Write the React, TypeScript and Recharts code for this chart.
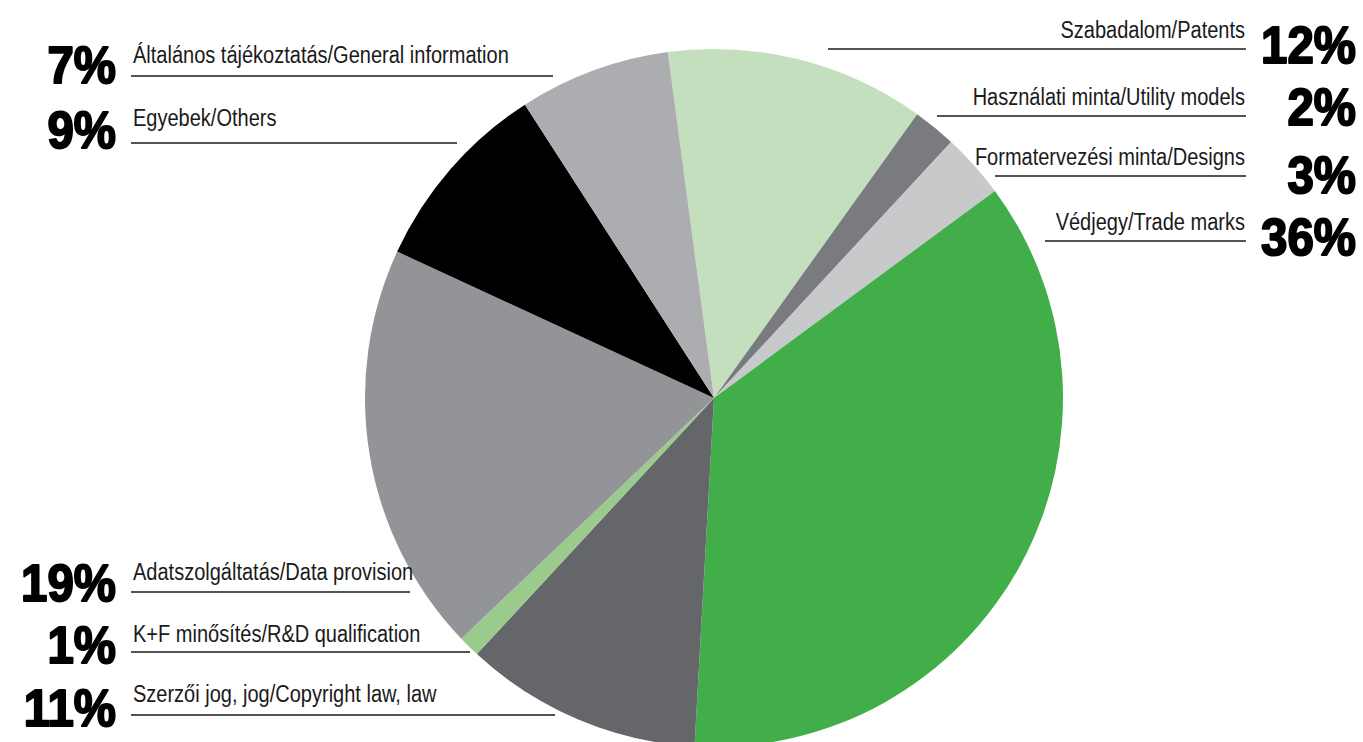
import { PieChart, Pie, Cell } from 'recharts';

const categories = [
  'Szabadalom/Patents',
  'Használati minta/Utility models',
  'Formatervezési minta/Designs',
  'Védjegy/Trade marks',
  'Szerzői jog, jog/Copyright law, law',
  'K+F minősítés/R&D qualification',
  'Adatszolgáltatás/Data provision',
  'Egyebek/Others',
  'Általános tájékoztatás/General information',
];
const shares = [12, 2, 3, 36, 11, 1, 19, 9, 7];
const colors = [
  '#c4dfbd',
  '#7a7b7e',
  '#c8c9cb',
  '#42ae4a',
  '#65666a',
  '#9acb8d',
  '#939497',
  '#000000',
  '#acadb0',
];

// label placement, one entry per category (same order)
const labelLayout = [
  { side: 'right', text: 38, line: 49, from: 828, pct: 63 },
  { side: 'right', text: 105, line: 116, from: 937, pct: 125 },
  { side: 'right', text: 165, line: 176, from: 995, pct: 193 },
  { side: 'right', text: 230, line: 241, from: 1045, pct: 255 },
  { side: 'left', text: 702, line: 715, to: 555, pct: 726 },
  { side: 'left', text: 642, line: 652, to: 470, pct: 663 },
  { side: 'left', text: 580, line: 592, to: 410, pct: 601 },
  { side: 'left', text: 126, line: 143, to: 457, pct: 148 },
  { side: 'left', text: 63, line: 76, to: 553, pct: 83 },
];

const data = categories.map((name, i) => ({ name, value: shares[i] }));

const W = 1363;
const H = 742;
const font = '"Liberation Sans", Arial, sans-serif';

function Labels() {
  return (
    <svg width={W} height={H} style={{ position: 'absolute', left: 0, top: 0, pointerEvents: 'none' }}>
      {data.map((d, i) => {
        const l = labelLayout[i];
        const right = l.side === 'right';
        return (
          <g key={d.name}>
            <line
              x1={right ? l.from : 131}
              x2={right ? 1246 : l.to}
              y1={l.line}
              y2={l.line}
              stroke="#1a1a1a"
              strokeWidth={1.3}
            />
            <text
              transform={`translate(${right ? 1245 : 133},${l.text}) scale(0.87,1)`}
              textAnchor={right ? 'end' : 'start'}
              fontFamily={font}
              fontSize={23}
              fill="#1a1a1a"
            >
              {d.name}
            </text>
            <text
              transform={`translate(${right ? 1356 : 116},${l.pct}) scale(0.93,1)`}
              textAnchor="end"
              fontFamily={font}
              fontWeight={700}
              fontSize={51}
              fill="#000"
              stroke="#000"
              strokeWidth={2}
              strokeLinejoin="round"
            >
              {d.value}%
            </text>
          </g>
        );
      })}
    </svg>
  );
}

export default function App() {
  return (
    <div style={{ position: 'absolute', left: 0, top: 0, width: W, height: H, background: '#fff', overflow: 'hidden' }}>
      <PieChart width={W} height={H} margin={{ top: 0, right: 0, bottom: 0, left: 0 }}>
        <Pie
          data={data}
          dataKey="value"
          nameKey="name"
          cx={714}
          cy={398}
          outerRadius={349}
          startAngle={97.6}
          endAngle={-262.4}
          stroke="none"
          isAnimationActive={false}
        >
          {data.map((d, i) => (
            <Cell key={d.name} fill={colors[i]} />
          ))}
        </Pie>
      </PieChart>
      <Labels />
    </div>
  );
}
